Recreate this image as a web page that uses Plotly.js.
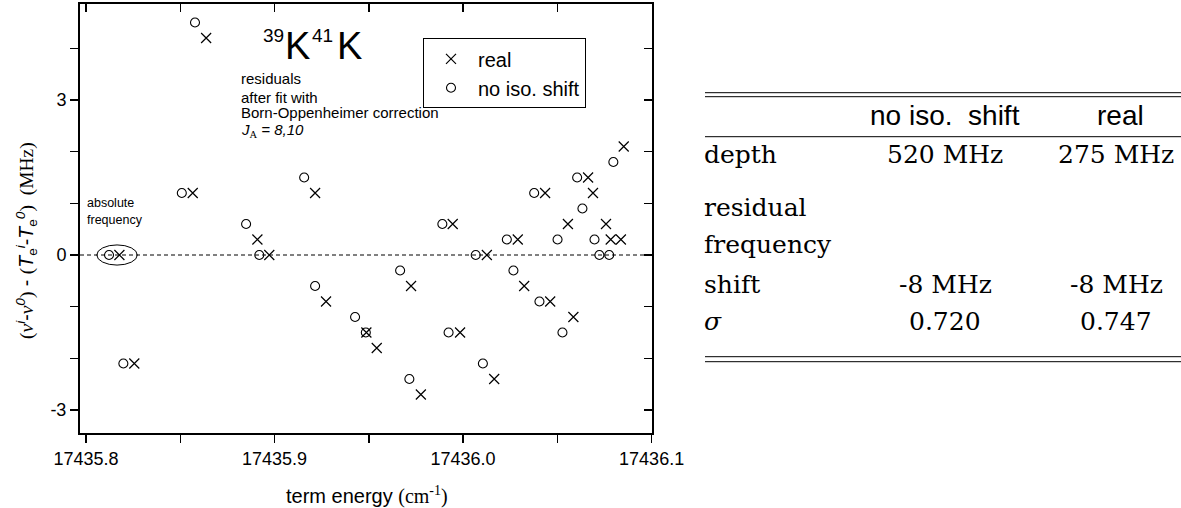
<!DOCTYPE html>
<html><head><meta charset="utf-8">
<script src="https://cdn.plot.ly/plotly-3.0.1.min.js"></script>
<style>html,body{margin:0;padding:0;background:#fff;}#chart{width:1181px;height:508px;}</style>
</head><body><div id="chart"></div>
<script>
// ---- data (term energy in cm^-1, residual in MHz) ----
const realX = [17435.8177, 17435.8256, 17435.8566, 17435.8637, 17435.8909, 17435.8972, 17435.9215,
  17435.9273, 17435.9487, 17435.9542, 17435.9724, 17435.9776, 17435.9945, 17435.9984, 17436.0126,
  17436.0165, 17436.0290, 17436.0324, 17436.0435, 17436.0462, 17436.0556, 17436.0585, 17436.0663,
  17436.0689, 17436.0758, 17436.0783, 17436.0837, 17436.0852];
const realY = [0, -2.1, 1.2, 4.2, 0.3, 0, 1.2, -0.9, -1.5, -1.8, -0.6, -2.7, 0.6, -1.5, 0,
  -2.4, 0.3, -0.6, 1.2, -0.9, 0.6, -1.2, 1.5, 1.2, 0.6, 0.3, 0.3, 2.1];
const noIsoX = [17435.8122, 17435.8198, 17435.8508, 17435.8578, 17435.8849, 17435.8919, 17435.9157,
  17435.9215, 17435.9427, 17435.9484, 17435.9666, 17435.9715, 17435.9890, 17435.9923, 17436.0067,
  17436.0105, 17436.0232, 17436.0267, 17436.0377, 17436.0405, 17436.0501, 17436.0527, 17436.0605,
  17436.0633, 17436.0697, 17436.0723, 17436.0775, 17436.0797];
const noIsoY = [0, -2.1, 1.2, 4.5, 0.6, 0, 1.5, -0.6, -1.2, -1.5, -0.3, -2.4, 0.6, -1.5, 0,
  -2.1, 0.3, -0.3, 1.2, -0.9, 0.3, -1.5, 1.5, 0.9, 0.3, 0, 0, 1.8];
const seriesNames = ['real', 'no iso. shift'];

const xMajorTicks = [17435.8, 17435.9, 17436.0, 17436.1];
const xMajorText = ['17435.8', '17435.9', '17436.0', '17436.1'];
const xMinorTicks = [17435.85, 17435.95, 17436.05];
const yMajorTicks = [-3, 0, 3];
const yMajorText = ['-3', '0', '3'];
const yMinorTicks = [-2, -1, 1, 2, 4];

// table on the right
const tableHeader = ['no iso.&nbsp; shift', 'real'];
const rowLabels = ['depth', 'residual', 'frequency', 'shift', '<i>σ</i>'];
const noIsoCol = ['520 MHz', '', '', '-8 MHz', '0.720'];
const realCol = ['275 MHz', '', '', '-8 MHz', '0.747'];

// ---- layout helpers (pixel -> paper) ----
const L = 80, R = 652, T = 4, B = 433;
const px = p => (p - L) / (R - L);
const py = p => (B - p) / (B - T);

const xRange = [17435.7968, 17436.1002];
const yRange = [-3.445, 4.858];

const axisCommon = {
  showgrid: false, zeroline: false, linecolor: '#000', linewidth: 2,
  tickcolor: '#000', tickwidth: 1.5, ticklen: 8,
  tickfont: {family: 'Liberation Sans, Arial, sans-serif', size: 18, color: '#000'}
};

const traces = [
  {x: realX, y: realY, name: seriesNames[0], type: 'scatter', mode: 'markers',
   xaxis: 'x2', yaxis: 'y2',
   marker: {symbol: 'x-thin-open', size: 10, color: '#000', line: {color: '#000', width: 1.2}}},
  {x: noIsoX, y: noIsoY, name: seriesNames[1], type: 'scatter', mode: 'markers',
   marker: {symbol: 'circle-open', size: 9, color: '#000', line: {color: '#000', width: 1.1}}}
];

const sansF = 'Liberation Sans, Arial, sans-serif';
const serifF = 'DejaVu Serif, serif';
const ann = [];
function addText(text, x, y, size, family, xanchor, extra) {
  ann.push(Object.assign({text: text, xref: 'paper', yref: 'paper', x: px(x), y: py(y),
    xanchor: xanchor || 'left', yanchor: 'middle', showarrow: false,
    font: {family: family, size: size, color: '#000'}, borderpad: 0}, extra || {}));
}
// isotopologue label
addText('39', 262, 35, 19, sansF);
addText('K', 284, 46, 38, sansF);
addText('41', 311, 35, 19, sansF);
addText('K', 336, 46, 38, sansF);
// residuals note
addText('residuals', 240, 78.5, 15, sansF);
addText('after fit with', 240, 97, 15, sansF);
addText('Born-Oppenheimer correction', 240, 113, 15, sansF);
addText('<i>J</i><sub><span style="font-family:Liberation Serif;font-style:normal">A</span></sub><i> = 8,10</i>', 240, 130, 15, sansF);
// absolute frequency
addText('absolute', 86, 203, 12.5, sansF);
addText('frequency', 86, 220, 12.5, sansF);
// axis titles
addText('term energy <span style="font-family:Liberation Serif">(cm<sup>-1</sup>)</span>', 367, 495, 20, sansF, 'center');
addText('<span style="font-family:Liberation Serif">(</span><i><span style="font-family:Liberation Serif">ν</span></i><sup><i>i</i></sup>-<i><span style="font-family:Liberation Serif">ν</span></i><sup><i>0</i></sup><span style="font-family:Liberation Serif">)</span> - <span style="font-family:Liberation Serif">(</span><i>T</i><sub>e</sub><sup><i>i</i></sup>-<i>T</i><sub>e</sub><sup><i>0</i></sup><span style="font-family:Liberation Serif">)  (MHz)</span>',
  26, 241, 19.5, sansF, 'center', {textangle: -90});

// table
const colCenters = [945, 1120];
const rowBase = [163.3, 216, 253.3, 293.3, 330];
addText(tableHeader[0], colCenters[0], 115.5, 28, sansF, 'center');
addText(tableHeader[1], colCenters[1], 115.5, 28, sansF, 'center');
rowLabels.forEach((t, i) => {
  addText(t, 703, rowBase[i] - 8.7, 25, serifF, 'left');
  if (noIsoCol[i]) addText(noIsoCol[i], colCenters[0], rowBase[i] - 8.7, 25, serifF, 'center');
  if (realCol[i]) addText(realCol[i], colCenters[1] - 4, rowBase[i] - 8.7, 25, serifF, 'center');
});

const shapes = [
  {type: 'line', xref: 'paper', yref: 'y', x0: 0, x1: 1, y0: 0, y1: 0, layer: 'below',
   line: {color: '#000', width: 1, dash: '4px,3px'}},
  {type: 'circle', xref: 'x', yref: 'y', x0: 17435.8057, x1: 17435.8272, y0: -0.195, y1: 0.195,
   line: {color: '#000', width: 1}}
];
[92.7, 96.7, 136.7, 356.7, 361.7].forEach(yy => {
  shapes.push({type: 'line', xref: 'paper', yref: 'paper', x0: px(705), x1: px(1181),
    y0: py(yy), y1: py(yy), line: {color: '#000', width: 1}});
});

const minorOut = {ticks: 'outside', ticklen: 8, tickwidth: 1.5, tickcolor: '#000', showgrid: false};
const minorIn = {ticks: 'inside', ticklen: 8, tickwidth: 1.5, tickcolor: '#000', showgrid: false};

const layout = {
  width: 1181, height: 508,
  margin: {l: L, r: 1181 - R, t: T, b: 508 - B, pad: 0},
  paper_bgcolor: '#fff', plot_bgcolor: '#fff',
  showlegend: true,
  legend: {x: px(423), xanchor: 'left', y: py(38.3), yanchor: 'top', itemwidth: 44,
    bordercolor: '#000', borderwidth: 1, bgcolor: '#fff',
    font: {family: sansF, size: 20, color: '#000'}},
  xaxis: Object.assign({}, axisCommon, {range: xRange, tickmode: 'array', tickvals: xMajorTicks,
    ticktext: xMajorText, ticks: 'outside', side: 'bottom', mirror: false, fixedrange: true,
    minor: Object.assign({tickmode: 'array', tickvals: xMinorTicks}, minorOut)}),
  yaxis: Object.assign({}, axisCommon, {range: yRange, tickmode: 'array', tickvals: yMajorTicks,
    ticktext: yMajorText, ticks: 'outside', side: 'left', mirror: false, fixedrange: true,
    minor: Object.assign({tickmode: 'array', tickvals: yMinorTicks}, minorOut)}),
  xaxis2: Object.assign({}, axisCommon, {range: xRange, tickmode: 'array', tickvals: xMajorTicks,
    ticks: 'inside', showticklabels: false, overlaying: 'x', side: 'top', anchor: 'y2', fixedrange: true,
    minor: Object.assign({tickmode: 'array', tickvals: xMinorTicks}, minorIn)}),
  yaxis2: Object.assign({}, axisCommon, {range: yRange, tickmode: 'array', tickvals: yMajorTicks,
    ticks: 'inside', showticklabels: false, overlaying: 'y', side: 'right', anchor: 'x2', fixedrange: true,
    minor: Object.assign({tickmode: 'array', tickvals: yMinorTicks}, minorIn)}),
  annotations: ann,
  shapes: shapes
};

Plotly.newPlot('chart', traces, layout, {displayModeBar: false, staticPlot: true});
</script></body></html>
